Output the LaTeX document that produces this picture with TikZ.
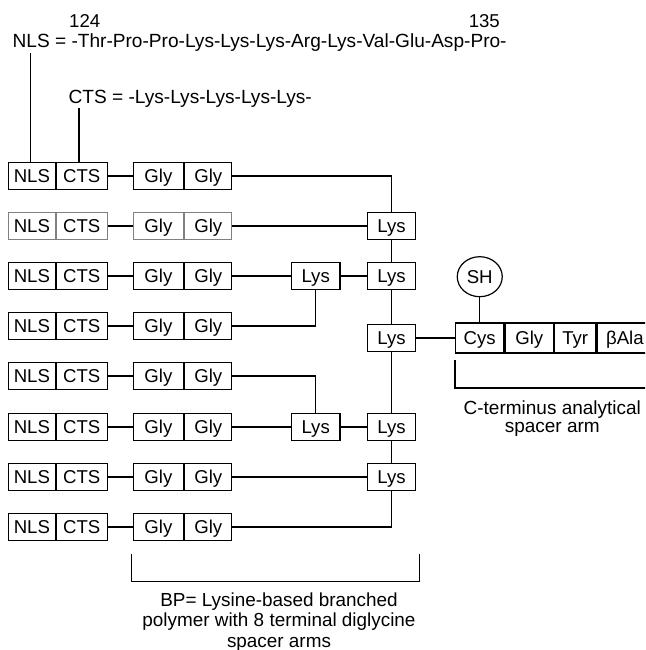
\documentclass[tikz,border=0pt]{standalone}
\usepackage{fontspec}
\setmainfont{Liberation Sans}
\usetikzlibrary{calc,shapes.geometric}

\begin{document}
\begin{tikzpicture}[x=1pt,y=-1pt,line width=1.2pt,
    unit/.style={draw, inner sep=0pt, minimum height=27pt, text height=13.3pt, text depth=0pt, anchor=west},
    lys/.style={draw, inner sep=0pt, minimum height=27pt, text height=13.3pt, text depth=0pt, minimum width=48.4pt},
    every node/.append style={font=\fontsize{18.6}{22}\selectfont}]
  \useasboundingbox (0,0) rectangle (645,650);
  \clip (0,0) rectangle (645,650);
  % sequences on top
  \node[anchor=base west, inner sep=0pt, font=\fontsize{19.1}{22}\selectfont] (nlsseq) at (12,47.3)
    {NLS = -Thr-Pro-Pro-Lys-Lys-Lys-Arg-Lys-Val-Glu-Asp-Pro-};
  \node[anchor=base, inner sep=0pt] (n124) at (84.7,27.3) {124};
  \node[anchor=base, inner sep=0pt] (n135) at (484.3,27.3) {135};
  \node[anchor=base west, inner sep=0pt, font=\fontsize{19.1}{22}\selectfont] (ctsseq) at (68,103.3)
    {CTS = -Lys-Lys-Lys-Lys-Lys-};
  % the eight NLS-CTS-Gly-Gly arms
  \foreach \r/\y/\c in {1/176/black, 2/226/black!50, 3/276/black, 4/326/black,
                        5/376/black, 6/427/black, 7/477/black, 8/527/black} {
    \node[unit, draw=\c, minimum width=46.5pt] (nls\r) at (8,\y) {NLS};
    \node[unit, draw=\c, minimum width=51pt] (cts\r) at (nls\r.east) {CTS};
    \node[unit, draw=\c, minimum width=50.5pt] (glyA\r) at (132.5,\y) {Gly};
    \node[unit, draw=\c, minimum width=47pt] (glyB\r) at (glyA\r.east) {Gly};
    \draw (cts\r) -- (glyA\r);
  }
  \coordinate (nlsTop) at (30.7,53.3);
  \coordinate (ctsTop) at (79,108.3);
  \draw (nlsTop) -- (nlsTop |- nls1.north);
  \draw (ctsTop) -- (ctsTop |- cts1.north);
  % lysine core
  \node[lys] (lysB) at (391.5,226) {Lys};
  \node[lys] (lysC) at (391.5,276) {Lys};
  \node[lys] (core) at (391.5,338) {Lys};
  \node[lys] (lysF) at (391.5,427) {Lys};
  \node[lys] (lysG) at (391.5,477) {Lys};
  \node[lys] (midC) at (315.7,276) {Lys};
  \node[lys] (midF) at (315.7,427) {Lys};
  \draw (glyB1) -| (lysB);
  \draw (glyB2) -- (lysB);
  \draw (glyB3) -- (midC) -- (lysC);
  \draw (glyB4) -| (midC);
  \draw (lysB) -- (lysC) -- (core) -- (lysF) -- (lysG);
  \draw (glyB5) -| (midF);
  \draw (glyB6) -- (midF) -- (lysF);
  \draw (glyB7) -- (lysG);
  \draw (glyB8) -| (lysG);
  % C-terminus spacer arm
  \node[unit, minimum height=30pt, minimum width=48.3pt] (cys) at (455,338) {Cys};
  \node[unit, minimum height=30pt, minimum width=48.4pt] (glyC) at (cys.east) {Gly};
  \node[unit, minimum height=30pt, minimum width=41pt] (tyr) at (glyC.east) {Tyr};
  \node[unit, minimum height=30pt, minimum width=56pt] (bala) at (tyr.east) {βAla};
  \node[draw, ellipse, inner sep=0pt, minimum width=45pt, minimum height=40pt] (sh) at (cys.center |- 0,276.7) {SH};
  \draw (sh) -- (cys);
  \draw (core) -- (cys);
  % brackets and captions
  \coordinate (ctL) at (455,360);
  \draw (ctL) -- ++(0,28) -- ++(200,0);
  \node[align=center, inner sep=0pt, anchor=north, font=\fontsize{19}{18}\selectfont] (ctcap) at (552.3,400)
    {C-terminus analytical\\spacer arm};
  \coordinate (bpL) at (131.7,554);
  \coordinate (bpR) at (419.3,554);
  \draw (bpL) -- ++(0,27.7) -| (bpR);
  \node[align=center, inner sep=0pt, anchor=north, font=\fontsize{18.9}{20.5}\selectfont] (bpcap) at (279,592)
    {BP= Lysine-based branched\\polymer with 8 terminal diglycine\\spacer arms};
\end{tikzpicture}
\end{document}
